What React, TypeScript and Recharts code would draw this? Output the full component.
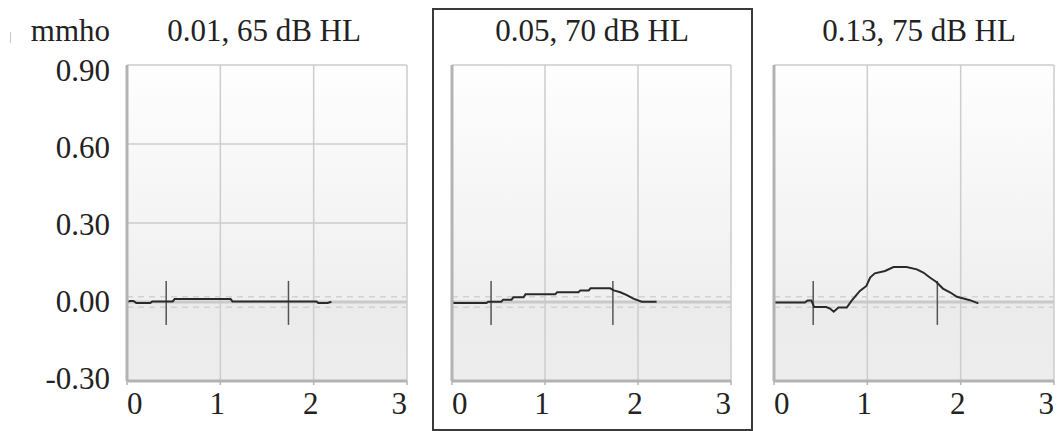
import React from "react";
import {
  LineChart,
  Line,
  XAxis,
  YAxis,
  CartesianGrid,
  ReferenceLine,
} from "recharts";

const titles = ["0.01, 65 dB HL", "0.05, 70 dB HL", "0.13, 75 dB HL"];
const unitLabel = "mmho";
const xTicks = [0, 1, 2, 3];
const yTicks = [-0.3, 0, 0.3, 0.6, 0.9];

const p1X = [0, 0.03, 0.07, 0.1, 0.25, 0.27, 0.49, 0.51, 1.11, 1.13, 2.03, 2.05, 2.15, 2.19];
const p1Y = [0.0, 0.004, 0.004, -0.004, -0.004, 0.002, 0.002, 0.011, 0.011, 0.002, 0.002, -0.004, -0.004, 0.001];

const p2X = [0, 0.02, 0.37, 0.39, 0.53, 0.55, 0.64, 0.66, 0.77, 0.79, 1.11, 1.13, 1.36, 1.38, 1.47, 1.49, 1.7, 1.74, 1.81, 1.88, 1.95, 2.04, 2.2];
const p2Y = [0.001, -0.004, -0.004, 0.001, 0.001, 0.009, 0.009, 0.018, 0.018, 0.029, 0.029, 0.037, 0.037, 0.044, 0.044, 0.052, 0.052, 0.044, 0.037, 0.026, 0.013, 0.001, 0.001];

const p3X = [0, 0.33, 0.36, 0.4, 0.43, 0.56, 0.6, 0.64, 0.69, 0.78, 0.83, 0.92, 0.99, 1.03, 1.08, 1.19, 1.28, 1.42, 1.53, 1.6, 1.67, 1.74, 1.81, 1.89, 1.96, 2.03, 2.1, 2.19];
const p3Y = [-0.002, -0.002, 0.006, 0.006, -0.019, -0.019, -0.025, -0.037, -0.021, -0.021, 0.004, 0.042, 0.061, 0.093, 0.109, 0.118, 0.133, 0.133, 0.124, 0.112, 0.093, 0.076, 0.051, 0.036, 0.02, 0.013, 0.007, -0.005];

const markerX1 = [0.42, 0.42, 0.42];
const markerX2 = [1.73, 1.73, 1.75];
const markerTop = 0.08;
const markerBottom = -0.087;
const bandHalf = 0.02;

const FONT = "'Liberation Serif', 'Times New Roman', serif";
const TEXT = "#222";
const FS = 31;

const toData = (xs: number[], ys: number[]) => xs.map((x, i) => ({ x, y: ys[i] }));
const panelData = [toData(p1X, p1Y), toData(p2X, p2Y), toData(p3X, p3Y)];

const XTick = (props: any) => {
  const { x, y, payload, index } = props;
  const last = xTicks.length - 1;
  const anchor = index === 0 ? "start" : index === last ? "end" : "middle";
  const dx = index === 0 || index === last ? 0 : -3;
  return (
    <text x={x + dx} y={y + 27} textAnchor={anchor} fontFamily={FONT} fontSize={FS} fill={TEXT}>
      {payload.value}
    </text>
  );
};

const YTick = (props: any) => {
  const { x, y, payload, index } = props;
  return (
    <text x={x} y={y + 8 + 2.1 * index} textAnchor="end" fontFamily={FONT} fontSize={FS} fill={TEXT}>
      {payload.value.toFixed(2)}
    </text>
  );
};

type PanelProps = {
  idx: number;
  left: number;
  width: number;
  yWidth: number;
  right: number;
  labels: boolean;
};

const Panel = ({ idx, left, width, yWidth, right, labels }: PanelProps) => (
  <div style={{ position: "absolute", left, top: 0 }}>
    <LineChart
      width={width}
      height={431}
      data={panelData[idx]}
      margin={{ top: 65, right, left: 0, bottom: 0 }}
    >
      <CartesianGrid stroke="#cdcdcd" strokeWidth={1.5} fill={`url(#bg${idx})`} fillOpacity={1} />
      <XAxis
        dataKey="x"
        type="number"
        domain={[0, 3]}
        ticks={xTicks}
        height={50}
        axisLine={{ stroke: "#b3b3b3", strokeWidth: 3 }}
        tickLine={{ stroke: "#b3b3b3", strokeWidth: 1.5 }}
        tickSize={4}
        tick={<XTick />}
        interval={0}
      />
      <YAxis
        type="number"
        domain={[-0.3, 0.9]}
        ticks={yTicks}
        width={yWidth}
        axisLine={{ stroke: "#b3b3b3", strokeWidth: 3 }}
        tickLine={false}
        tickSize={0}
        tickMargin={17}
        tick={labels ? <YTick /> : false}
        interval={0}
      />
      <ReferenceLine y={0} stroke="#c9c9c9" strokeWidth={3} />
      <ReferenceLine y={bandHalf} stroke="#d2d2d2" strokeWidth={1.3} strokeDasharray="6 5" />
      <ReferenceLine y={-bandHalf} stroke="#d2d2d2" strokeWidth={1.3} strokeDasharray="6 5" />
      <ReferenceLine
        segment={[
          { x: markerX1[idx], y: markerTop },
          { x: markerX1[idx], y: markerBottom },
        ]}
        stroke="#555"
        strokeWidth={1.5}
      />
      <ReferenceLine
        segment={[
          { x: markerX2[idx], y: markerTop },
          { x: markerX2[idx], y: markerBottom },
        ]}
        stroke="#555"
        strokeWidth={1.5}
      />
      <Line
        type="linear"
        dataKey="y"
        stroke="#2a2a2a"
        strokeWidth={2}
        dot={false}
        activeDot={false}
        isAnimationActive={false}
      />
    </LineChart>
  </div>
);

const titleStyle = (center: number): React.CSSProperties => ({
  position: "absolute",
  left: center - 150,
  width: 300,
  top: 12,
  textAlign: "center",
  fontFamily: FONT,
  fontSize: FS,
  color: TEXT,
  lineHeight: "38px",
  whiteSpace: "nowrap",
});

export default function App() {
  return (
    <div
      style={{
        position: "absolute",
        left: 0,
        top: 0,
        width: 1062,
        height: 431,
        background: "#fff",
        overflow: "hidden",
      }}
    >
      <svg width={0} height={0} style={{ position: "absolute" }}>
        <defs>
          {[0, 1, 2].map((i) => (
            <linearGradient key={i} id={`bg${i}`} x1="0" y1="0" x2="0" y2="1">
              <stop offset="0%" stopColor="#fefefe" />
              <stop offset="74.5%" stopColor="#efefef" />
              <stop offset="75%" stopColor="#ebebeb" />
              <stop offset="100%" stopColor="#ededed" />
            </linearGradient>
          ))}
        </defs>
      </svg>
      <Panel idx={0} left={0} width={420} yWidth={127} right={13} labels={true} />
      <Panel idx={1} left={440} width={300} yWidth={12} right={9} labels={false} />
      <Panel idx={2} left={760} width={302} yWidth={14} right={8} labels={false} />
      <div style={titleStyle(264)}>{titles[0]}</div>
      <div style={titleStyle(592)}>{titles[1]}</div>
      <div style={titleStyle(919)}>{titles[2]}</div>
      <div
        style={{
          position: "absolute",
          right: 1062 - 110,
          top: 12,
          fontFamily: FONT,
          fontSize: FS,
          color: TEXT,
          lineHeight: "38px",
        }}
      >
        {unitLabel}
      </div>
      <div
        style={{
          position: "absolute",
          left: 10,
          top: 32,
          width: 1,
          height: 11,
          background: "#c8c8c8",
        }}
      />
      <div
        style={{
          position: "absolute",
          left: 432,
          top: 8,
          width: 321,
          height: 423,
          border: "2px solid #3a3a3a",
          boxSizing: "border-box",
        }}
      />
    </div>
  );
}
